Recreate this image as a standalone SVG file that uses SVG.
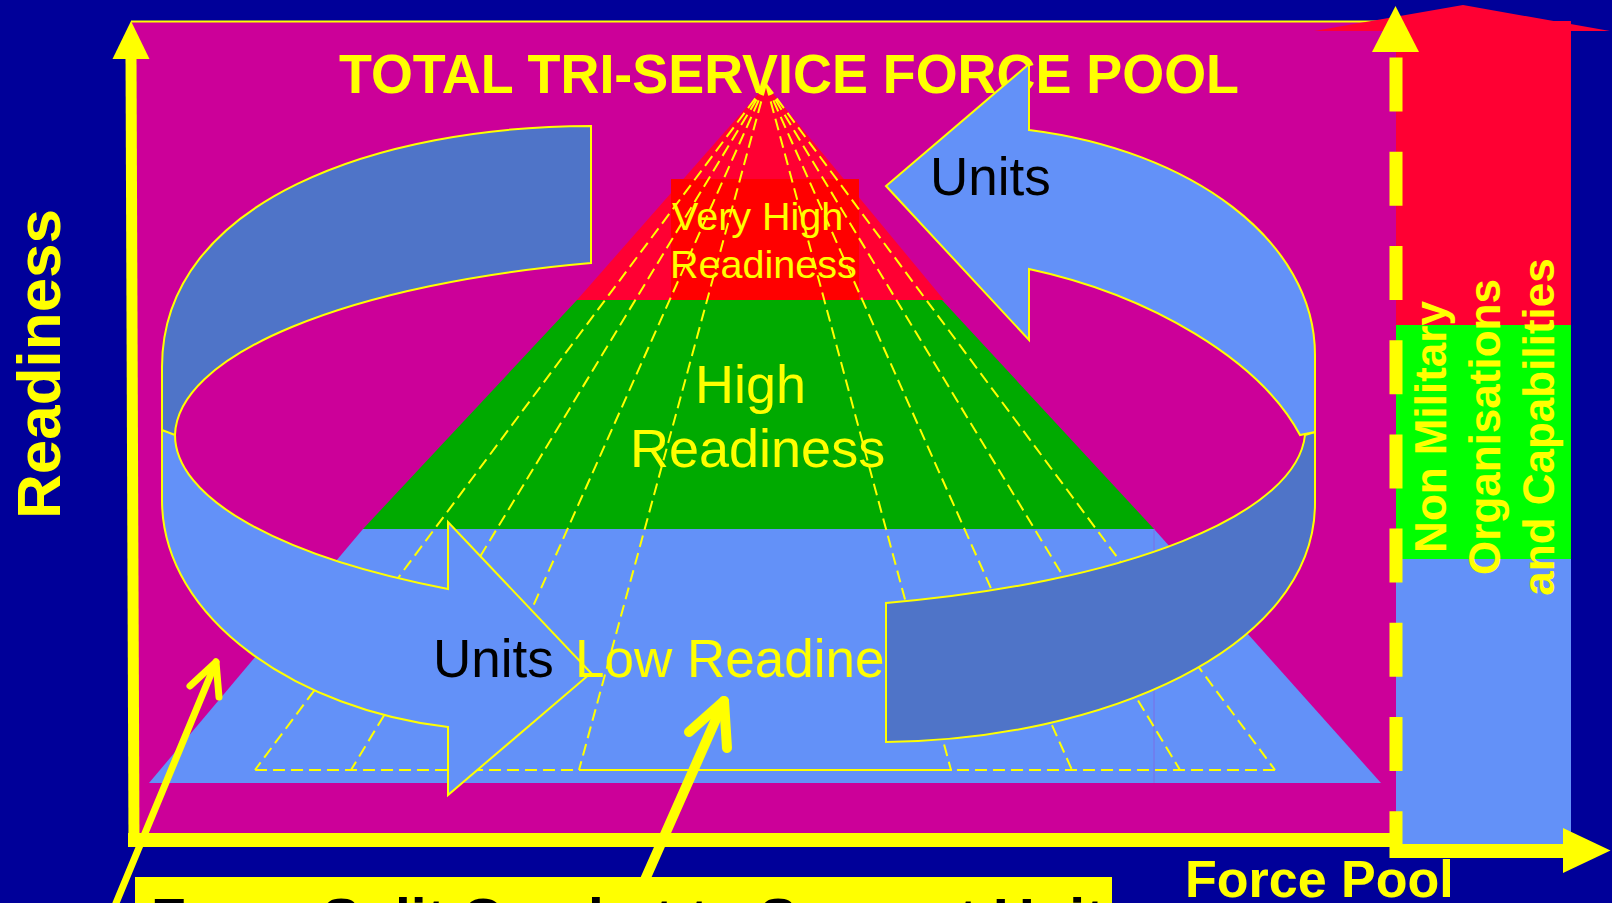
<svg xmlns="http://www.w3.org/2000/svg" width="1612" height="903" viewBox="0 0 1612 903">
<style>
text { font-family: "Liberation Sans", Arial, sans-serif; }
.b { font-weight: bold; }
.y { fill: #FFFF00; }
.k { fill: #000000; }
.ring { stroke: #FFFF00; stroke-width: 2; stroke-linejoin: miter; }
.dark { fill: #4F74C8; }
.light { fill: #6391F8; }
.fan { fill: none; stroke: #FFFF00; stroke-width: 2; stroke-dasharray: 12 6; }
.ptr { stroke: #FFFF00; fill: none; stroke-linecap: round; stroke-linejoin: round; }
.ax { stroke: #FFFF00; fill: none; }
</style>
<rect width="1612" height="903" fill="#000099"/>
<g id="panel">
  <rect x="131" y="21" width="1265" height="819" fill="#CC0099"/>
  <line x1="131" y1="21.5" x2="1396" y2="21.5" stroke="#FFFF00" stroke-width="2"/>
  <text x="339" y="93" class="b y" font-size="55" textLength="900" lengthAdjust="spacingAndGlyphs">TOTAL TRI-SERVICE FORCE POOL</text>
</g>
<g id="pyramid">
  <polygon points="149,783 1381,783 1154,529 363,529" fill="#6391F8"/>
  <line x1="1154" y1="529" x2="1154" y2="783" stroke="#7B6FE6" stroke-width="1"/>
  <polygon points="363,529 1154,529 942,300 577,300" fill="#00AA00"/>
  <polygon points="766,85 944,300 577,300" fill="#FF0033"/>
  <rect x="671" y="179" width="188" height="121" fill="#FF0000"/>
  <text class="y" font-size="39.5"><tspan x="672" y="230">Very High</tspan><tspan x="670" y="278">Readiness</tspan></text>
  <text class="y" font-size="54"><tspan x="695" y="403">High</tspan><tspan x="630" y="467">Readiness</tspan></text>
</g>
<g id="fan">
  <path class="fan" d="M766,84 L255,770 M766,84 L351,770 M766,84 L460,770 M766,84 L579,770 M766,84 L951,770 M766,84 L1072,770 M766,84 L1180,770 M766,84 L1275,770 M255,770 L1275,770"/>
  <line x1="579" y1="770" x2="952" y2="770" stroke="#FFFF00" stroke-width="2"/>
</g>
<g id="ring-back">
  <path class="ring dark" d="M591,126 C380,126 162,200 162,367 L162,450 L175,450 L175,435 A565,180 0 0 1 591,263 Z"/>
</g>
<g id="ring-front-left">
  <path class="ring light" d="M162,430 L162,500 C162,620 300,710 448,727 L448,795 L591,673 L448,522 L448,589 A565,180 0 0 1 175,435 Z"/>
  <text x="433" y="677" class="k" font-size="53">Units</text>
</g>
<g id="low-readiness">
  <text x="575" y="677" class="y" font-size="53">Low Readiness</text>
</g>
<g id="ring-front-right">
  <path class="ring dark" d="M886,603 A565,180 0 0 0 1305,435 L1315,432 L1315,503 C1315,650 1100,740 886,742 Z"/>
</g>
<g id="ring-top-right">
  <path class="ring light" d="M1029,130 C1190,150 1315,240 1315,355 L1315,432 L1300,435 C1260,360 1150,295 1029,269 L1029,340 L886,186 L1029,64 Z"/>
  <text x="930" y="195" class="k" font-size="53">Units</text>
</g>
<g id="column">
  <polygon points="1314,31 1463,5 1610,31" fill="#FF0033"/>
  <rect x="1396" y="21" width="175" height="305" fill="#FF0033"/>
  <rect x="1396" y="325" width="175" height="234" fill="#00FF00"/>
  <rect x="1396" y="559" width="175" height="286" fill="#6391F8"/>
  <g class="b y" font-size="44" text-anchor="middle">
    <text transform="translate(1446,427) rotate(-90)">Non Military</text>
    <text transform="translate(1500,427) rotate(-90)">Organisations</text>
    <text transform="translate(1554,427) rotate(-90)">and Capabilities</text>
  </g>
</g>
<g id="axes">
  <line class="ax" x1="131" y1="55" x2="134" y2="847" stroke-width="11"/>
  <polygon points="131,21 149.5,59 112.5,59" fill="#FFFF00"/>
  <line class="ax" x1="128" y1="840" x2="1396" y2="840" stroke-width="14"/>
  <line class="ax" x1="1396" y1="57.6" x2="1396" y2="858" stroke-width="13" stroke-dasharray="54 40.2"/>
  <polygon points="1395.5,6 1419,52 1372,52" fill="#FFFF00"/>
  <line class="ax" x1="1390" y1="851" x2="1566" y2="851" stroke-width="14"/>
  <polygon points="1563,828 1610.5,850.5 1563,873" fill="#FFFF00"/>
  <text transform="translate(60,364) rotate(-90)" text-anchor="middle" class="b y" font-size="62">Readiness</text>
  <text x="1185" y="897" class="b y" font-size="52">Force Pool</text>
</g>
<g id="connectors">
  <line class="ptr" x1="216" y1="662" x2="116" y2="903" stroke-width="7"/>
  <polyline class="ptr" points="190,686 216,662 219,697" stroke-width="7"/>
  <line class="ptr" x1="724" y1="701" x2="636" y2="900" stroke-width="10"/>
  <polyline class="ptr" points="689,732 724,701 727,748" stroke-width="10"/>
</g>
<g id="caption">
  <rect x="135" y="877" width="977" height="40" fill="#FFFF00"/>
  <text x="151" y="939" class="b k" font-size="57">Force Split Combat to Support Units</text>
</g>
</svg>
